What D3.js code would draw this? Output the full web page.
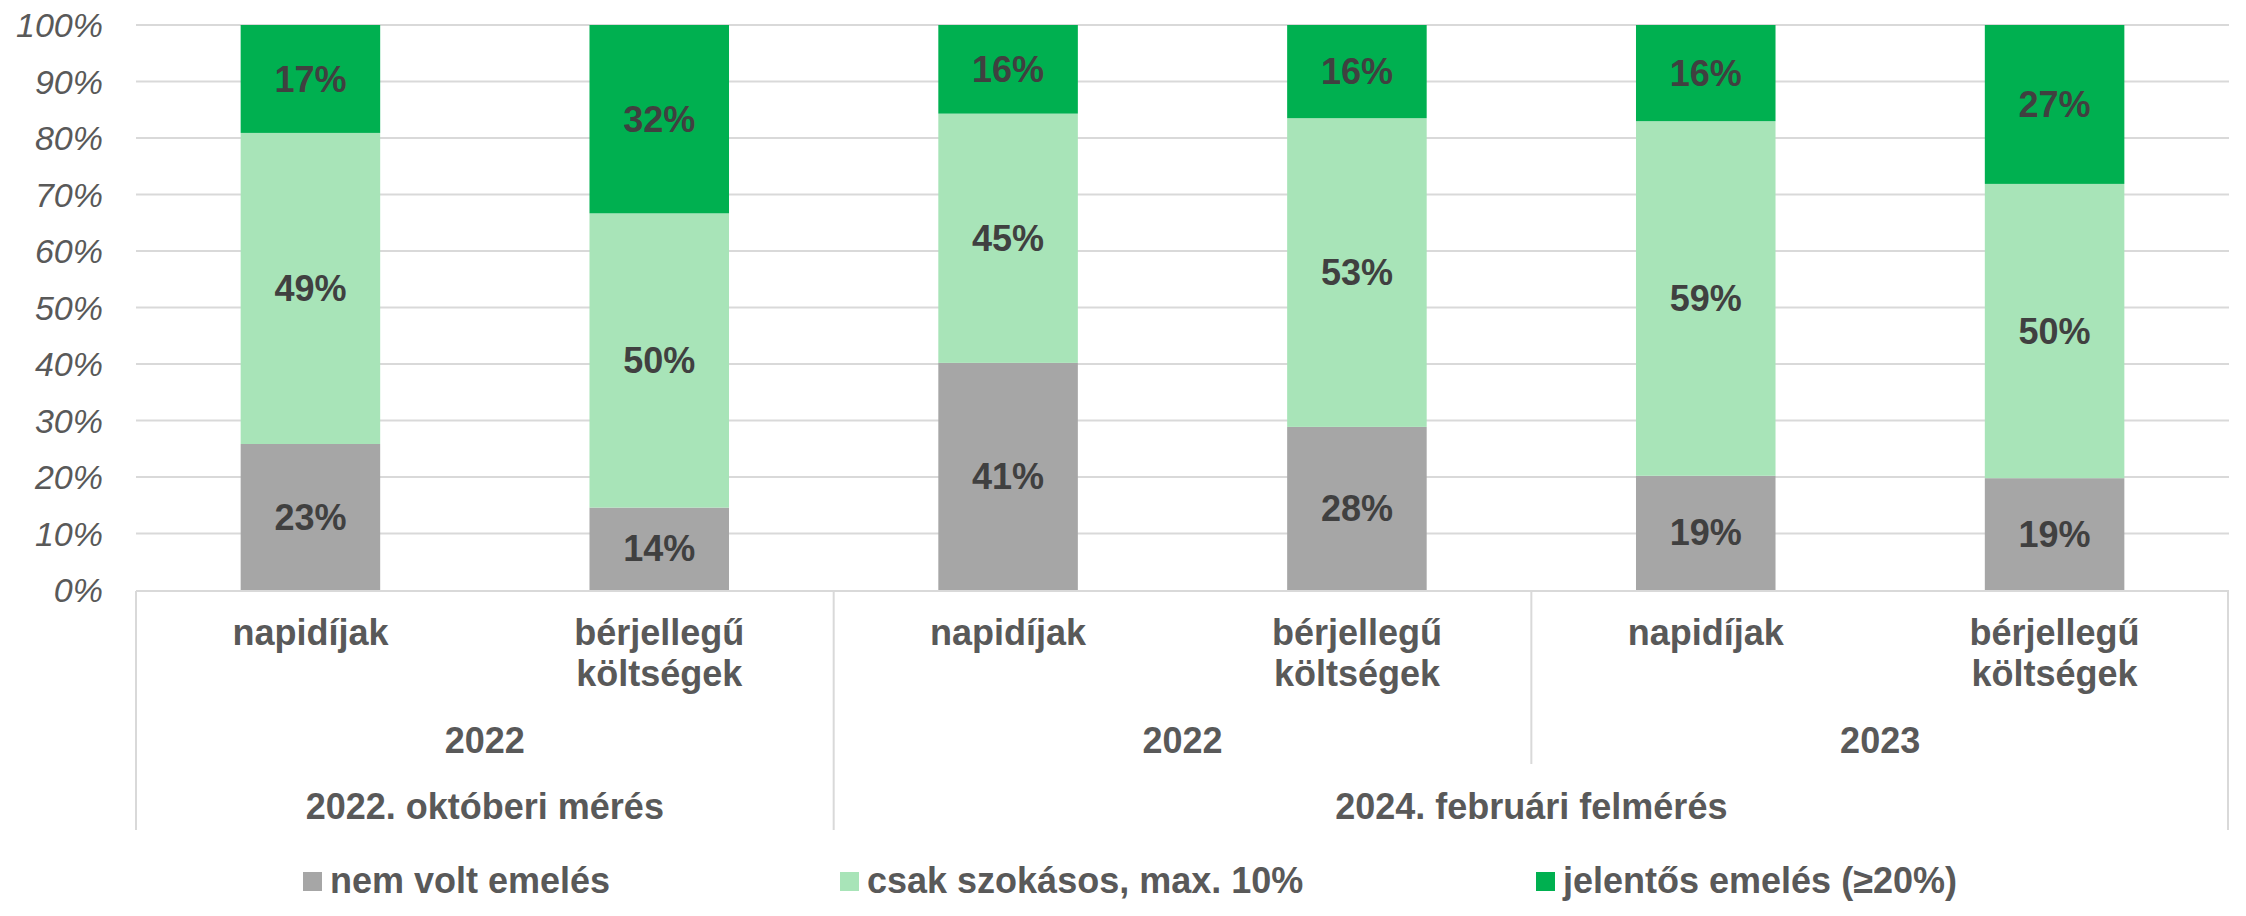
<!DOCTYPE html>
<html>
<head>
<meta charset="utf-8">
<script src="https://cdn.jsdelivr.net/npm/d3@7"></script>
<style>
  html, body { margin: 0; padding: 0; background: #fff; }
  svg { display: block; font-family: "Liberation Sans", Arial, sans-serif; }
</style>
</head>
<body>
<svg id="chart" width="2246" height="916"></svg>
<script>
// bar labels (first level of the category axis)
var itemLabels = [
    ['napidíjak'], ['bérjellegű', 'költségek'],
    ['napidíjak'], ['bérjellegű', 'költségek'],
    ['napidíjak'], ['bérjellegű', 'költségek']
];
// second level: year, each spans two bars
var yearLabels = ['2022', '2022', '2023'];
var yearSpans = [2, 2, 2];
// third level: survey
var surveyLabels = ['2022. októberi mérés', '2024. februári felmérés'];
var surveySpans = [2, 4];

var seriesNames = ['nem volt emelés', 'csak szokásos, max. 10%', 'jelentős emelés (≥20%)'];
var seriesColors = ['#a6a6a6', '#a8e4b8', '#00b050'];
var nemVolt = [23, 14, 41, 28, 19, 19];
var szokasos = [49, 50, 45, 53, 59, 50];
var jelentos = [17, 32, 16, 16, 16, 27];

var yTicks = [0, 0.1, 0.2, 0.3, 0.4, 0.5, 0.6, 0.7, 0.8, 0.9, 1];

var margin = {left: 136, right: 17, top: 25, bottom: 326};
var width = 2246, height = 916;
var plotW = width - margin.left - margin.right,
    plotH = height - margin.top - margin.bottom;
var axisColor = '#d9d9d9', textColor = '#595959', labelColor = '#404040';

var svg = d3.select('#chart');
var g = svg.append('g').attr('transform', 'translate(' + margin.left + ',' + margin.top + ')');

var rows = itemLabels.map(function (d, i) {
    return {i: i, a: nemVolt[i], b: szokasos[i], c: jelentos[i]};
});
var stack = d3.stack().keys(['a', 'b', 'c']).offset(d3.stackOffsetExpand);
var stacked = stack(rows);

var x = d3.scaleBand().domain(d3.range(itemLabels.length)).range([0, plotW]).paddingInner(0.6).paddingOuter(0.3);
var y = d3.scaleLinear().domain([0, 1]).range([plotH, 0]);

// gridlines
g.append('g')
    .selectAll('line')
    .data(yTicks.slice(1))
    .enter().append('line')
    .attr('x1', 0).attr('x2', plotW)
    .attr('y1', function (d) { return y(d); })
    .attr('y2', function (d) { return y(d); })
    .attr('stroke', axisColor).attr('stroke-width', 2);

// y axis labels
var yAxis = d3.axisLeft(y).tickValues(yTicks).tickSize(0).tickPadding(33)
    .tickFormat(function (d) { return Math.round(d * 100) + '%'; });
var yG = g.append('g').call(yAxis);
yG.select('.domain').remove();
yG.selectAll('text')
    .attr('fill', textColor)
    .style('font-size', '34px')
    .style('font-style', 'italic')
    .attr('dy', '0.35em');

// bars
var layers = g.append('g').selectAll('g')
    .data(stacked)
    .enter().append('g')
    .attr('fill', function (d, i) { return seriesColors[i]; });

layers.selectAll('rect')
    .data(function (d) { return d; })
    .enter().append('rect')
    .attr('x', function (d) { return x(d.data.i); })
    .attr('width', x.bandwidth())
    .attr('y', function (d) { return y(d[1]); })
    .attr('height', function (d) { return y(d[0]) - y(d[1]); });

// data labels
layers.each(function (layer) {
    d3.select(this).selectAll('text')
        .data(layer)
        .enter().append('text')
        .attr('x', function (d) { return x(d.data.i) + x.bandwidth() / 2; })
        .attr('y', function (d) { return (y(d[0]) + y(d[1])) / 2; })
        .attr('dy', '0.35em')
        .attr('text-anchor', 'middle')
        .attr('fill', labelColor)
        .style('font-size', '36px')
        .style('font-weight', 'bold')
        .text(function (d) { return d.data[layer.key] + '%'; });
});

// category axis line
g.append('line')
    .attr('x1', 0).attr('x2', plotW)
    .attr('y1', plotH + 1).attr('y2', plotH + 1)
    .attr('stroke', axisColor).attr('stroke-width', 2);

var step = x.step();
var bottomRow = plotH + 240, yearRow = plotH + 174;

// separators: survey boundaries go to the bottom, year boundaries stop at the year row
var surveyEdges = [0], acc = 0;
surveySpans.forEach(function (s) { acc += s; surveyEdges.push(acc); });
var yearEdges = [], acc2 = 0;
yearSpans.forEach(function (s) { acc2 += s; yearEdges.push(acc2); });
yearEdges = yearEdges.filter(function (e) { return surveyEdges.indexOf(e) < 0; });

var edgeX = function (k) { return x.range()[0] + k * step * (plotW / (step * itemLabels.length)); };

g.append('g').selectAll('line')
    .data(surveyEdges)
    .enter().append('line')
    .attr('x1', function (d) { return Math.min(edgeX(d), plotW - 1); })
    .attr('x2', function (d) { return Math.min(edgeX(d), plotW - 1); })
    .attr('y1', plotH + 1).attr('y2', bottomRow)
    .attr('stroke', axisColor).attr('stroke-width', 2);

g.append('g').selectAll('line')
    .data(yearEdges)
    .enter().append('line')
    .attr('x1', function (d) { return edgeX(d); })
    .attr('x2', function (d) { return edgeX(d); })
    .attr('y1', plotH + 1).attr('y2', yearRow)
    .attr('stroke', axisColor).attr('stroke-width', 2);

// first-level labels
var item = g.append('g').selectAll('text')
    .data(itemLabels)
    .enter().append('text')
    .attr('text-anchor', 'middle')
    .attr('fill', textColor)
    .style('font-size', '36px')
    .style('font-weight', 'bold')
    .attr('transform', function (d, i) {
        return 'translate(' + (x(i) + x.bandwidth() / 2) + ',' + (plotH + 55) + ')';
    });
item.selectAll('tspan')
    .data(function (d) { return d; })
    .enter().append('tspan')
    .attr('x', 0)
    .attr('y', function (d, i) { return i * 41; })
    .text(function (d) { return d; });

// group labels
var groupLabel = function (labels, spans, yPos) {
    var start = 0;
    labels.forEach(function (lbl, i) {
        var cx = (edgeX(start) + edgeX(start + spans[i])) / 2;
        start += spans[i];
        g.append('text')
            .attr('x', cx).attr('y', yPos)
            .attr('text-anchor', 'middle')
            .attr('fill', textColor)
            .style('font-size', '36px')
            .style('font-weight', 'bold')
            .text(lbl);
    });
};
groupLabel(yearLabels, yearSpans, plotH + 163);
groupLabel(surveyLabels, surveySpans, plotH + 229);

// legend
var legendX = [303, 840, 1536];
var legend = svg.append('g').selectAll('g')
    .data(seriesNames)
    .enter().append('g')
    .attr('transform', function (d, i) { return 'translate(' + legendX[i] + ',893)'; });
legend.append('rect')
    .attr('x', 0).attr('y', -21)
    .attr('width', 19).attr('height', 19)
    .attr('fill', function (d, i) { return seriesColors[i]; });
legend.append('text')
    .attr('x', 27).attr('y', 0)
    .attr('fill', textColor)
    .style('font-size', '36px')
    .style('font-weight', 'bold')
    .text(function (d) { return d; });
</script>
</body>
</html>
